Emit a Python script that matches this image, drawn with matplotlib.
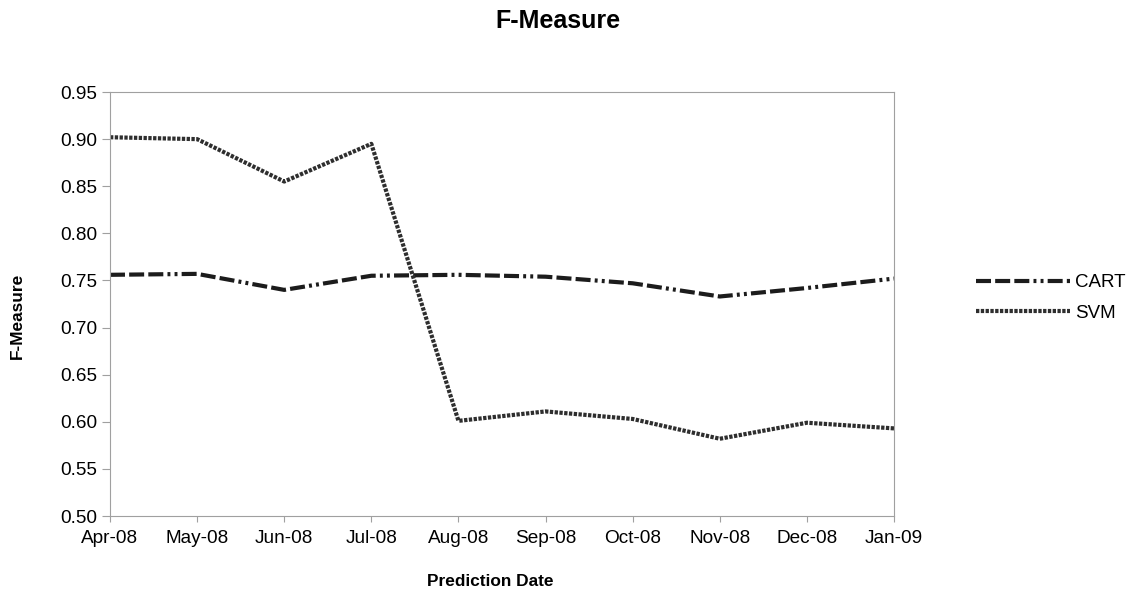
import matplotlib.pyplot as plt

plt.rcParams['font.family'] = ['Liberation Sans', 'DejaVu Sans']

dates = ['Apr-08', 'May-08', 'Jun-08', 'Jul-08', 'Aug-08', 'Sep-08',
         'Oct-08', 'Nov-08', 'Dec-08', 'Jan-09']
cart = [0.756, 0.757, 0.740, 0.755, 0.756, 0.754, 0.747, 0.733, 0.742, 0.752]
svm = [0.902, 0.900, 0.855, 0.895, 0.601, 0.611, 0.603, 0.582, 0.599, 0.593]
yticks = [0.50, 0.55, 0.60, 0.65, 0.70, 0.75, 0.80, 0.85, 0.90, 0.95]

fig = plt.figure(figsize=(11.35, 5.96), dpi=100)
ax = fig.add_axes([0.0969, 0.1342, 0.6908, 0.7114])

x = range(len(dates))
# excel style long dash / dot dot for CART, square dots for SVM
ax.plot(x, cart, color='#1c1c1c', lw=3.0, label='CART',
        dashes=(3.6, 1.0, 3.6, 1.0, 3.6, 1.0, 0.7, 1.0, 0.7, 1.0))
ax.plot(x, svm, color='#2e2e2e', lw=3.0, label='SVM', dashes=(0.8, 0.35))

ax.set_xlim(0, len(dates) - 1)
ax.set_ylim(0.50, 0.95)
ax.set_xticks(list(x))
ax.set_xticklabels(dates, fontsize=13.7)
ax.set_yticks(yticks)
ax.set_yticklabels([f'{v:.2f}' for v in yticks], fontsize=13.7)
for s in ax.spines.values():
    s.set_color('#a0a0a0')
    s.set_linewidth(0.8)
ax.tick_params(axis='y', length=6, color='#a0a0a0', width=0.8, pad=3)
ax.tick_params(axis='x', length=4, color='#a0a0a0', width=0.8, pad=6)

fig.text(0.4916, 0.953, 'F-Measure', fontsize=18, fontweight='bold',
         ha='center', va='baseline')
fig.text(0.432, 0.016, 'Prediction Date', fontsize=12.4, fontweight='bold',
         ha='center', va='baseline')
fig.text(0.015, 0.47, 'F-Measure', fontsize=12.4, fontweight='bold',
         ha='center', va='center', rotation=90)

fig.legend(loc='center left', bbox_to_anchor=(0.86, 0.50), frameon=False,
           fontsize=13.5, handlelength=5.0, handletextpad=0.3, labelspacing=0.7,
           borderaxespad=0, borderpad=0)

fig.savefig('out.png', dpi=100)
